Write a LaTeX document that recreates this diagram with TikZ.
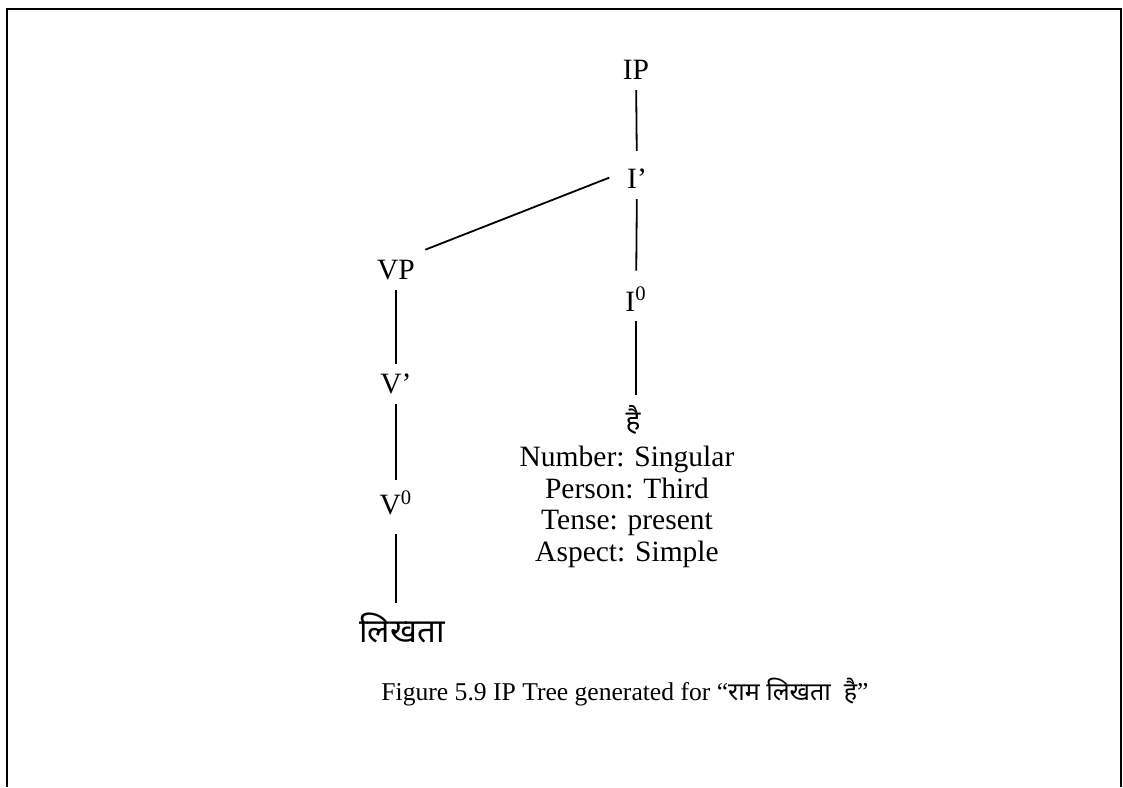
\documentclass[tikz,border=0pt]{standalone}
\usepackage{fontspec}
\setmainfont{Liberation Serif}
\newfontfamily\hindi[Script=Devanagari]{Noto Sans}
\usetikzlibrary{positioning}

\begin{document}
\begin{tikzpicture}[
    x=0.5pt, y=-0.5pt,
    cat/.style={inner sep=5pt, font=\fontsize{14.75}{16}\selectfont},
    word/.style={inner sep=5pt, font=\fontsize{16.5}{18}\selectfont\hindi},
    branch/.style={line width=0.9pt}
]
    \useasboundingbox (0,0) rectangle (1123,787);
    % Frame
    \draw[line width=1.2pt] (7,787) -- (7,9) -- (1121,9) -- (1121,787);

    % Inflection side
    \node[cat] (ip) at (636,70) {IP};
    \node[cat] (ibar) at (637,179) {I’};
    \node[cat] (izero) at (636,299) {I\textsuperscript{0}};
    \node[word, font=\fontsize{14}{16}\selectfont\hindi] (hai) at (633,420) {है};
    \node[cat, inner sep=0pt, anchor=north, align=center,
          font=\fontsize{14.75}{15.75}\selectfont] (feats) at (627,446)
        {Number: Singular\\Person: Third\\Tense: present\\Aspect: Simple};

    % Verb side
    \node[cat] (vp) at (396,270) {VP};
    \node[cat] (vbar) at (396,384) {V’};
    \node[cat] (vzero) at (396,503) {V\textsuperscript{0}};
    \node[word] (likhta) at (402,628) {लिखता};

    % Branches
    \draw[branch, shorten >=4pt] (ip) -- (ibar);
    \draw[branch, shorten >=3pt] (ibar) -- (izero);
    \draw[branch] (izero) -- (izero |- hai.north);
    \draw[branch, shorten <=4pt] (ibar.168) -- (vp.north east);
    \draw[branch] (vp) -- (vbar);
    \draw[branch] (vbar) -- (vzero);
    \draw[branch, shorten <=4pt] (vzero.south -| vp) -- (vp |- likhta.north);

    % Caption
    \node[cat, font=\fontsize{12.8}{14}\selectfont] (caption) at (625,692)
        {Figure 5.9 IP Tree generated for “{\hindi\fontsize{12.5}{14}\selectfont राम लिखता\ \ है}”};
\end{tikzpicture}
\end{document}
